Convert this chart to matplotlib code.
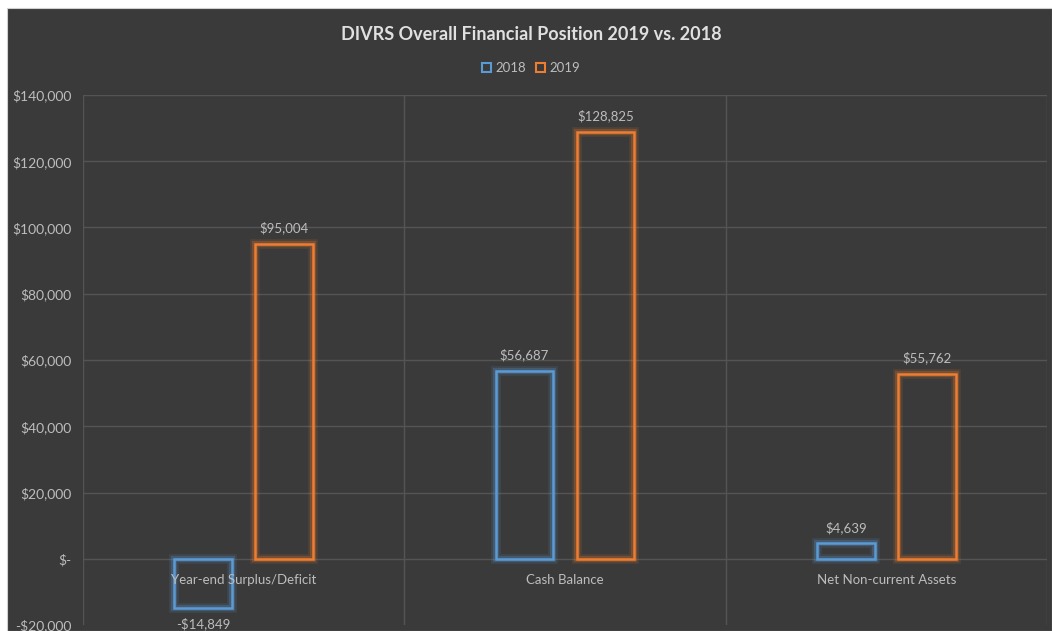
import numpy as np
import matplotlib
matplotlib.use("Agg")
import matplotlib.pyplot as plt
import matplotlib.patheffects as pe
from matplotlib.patches import Patch, Rectangle

categories = ["Year-end Surplus/Deficit", "Cash Balance", "Net Non-current Assets"]
series_names = ["2018", "2019"]
values_2018 = [-14849, 56687, 4639]
values_2019 = [95004, 128825, 55762]
y_ticks = [-20000, 0, 20000, 40000, 60000, 80000, 100000, 120000, 140000]

BG = "#3a3a3a"
TEXT = "#bdbdbd"
GRID = "#545454"
BLUE = "#5b9bd5"
ORANGE = "#ed7d31"

plt.rcParams["font.family"] = ["Lato", "DejaVu Sans"]


def money(v):
    if v == 0:
        return "$-"
    s = f"${abs(v):,.0f}"
    return "-" + s if v < 0 else s


def glow(color):
    return [
        pe.Stroke(linewidth=7, foreground=color, alpha=0.12),
        pe.Stroke(linewidth=4.5, foreground=color, alpha=0.25),
        pe.Normal(),
    ]


fig = plt.figure(figsize=(10.52, 6.31), dpi=100, facecolor="white")
# dark chart area, with the thin white margin left and top
fig.patches.append(Rectangle((7 / 1052, 0), 1 - 7 / 1052, 1 - 8 / 631,
                             transform=fig.transFigure, facecolor=BG,
                             edgecolor="#d0d0d0", linewidth=0.8, zorder=-1))

ax = fig.add_axes([83 / 1052, 6 / 631, (1047 - 83) / 1052, (625 - 95) / 631])
ax.set_facecolor("none")

x = np.arange(len(categories))
width = 0.18
offset = 0.126
for vals, color, sign in ((values_2018, BLUE, -1), (values_2019, ORANGE, 1)):
    bars = ax.bar(x + sign * offset, vals, width, facecolor="none",
                  edgecolor=color, linewidth=1.8, zorder=3)
    for b, v in zip(bars, vals):
        b.set_path_effects(glow(color))
        cx = b.get_x() + b.get_width() / 2
        if v >= 0:
            ax.annotate(money(v), (cx, v), xytext=(0, 7), textcoords="offset points",
                        ha="center", va="bottom", color=TEXT, fontsize=9.5)
        else:
            ax.annotate(money(v), (cx, v), xytext=(0, -7), textcoords="offset points",
                        ha="center", va="top", color=TEXT, fontsize=9.5)

# category labels sit just under the zero line
for i, c in enumerate(categories):
    ax.annotate(c, (i, 0), xytext=(0, -15), textcoords="offset points",
                ha="center", va="center", color=TEXT, fontsize=9.5, zorder=5)

ax.set_xlim(-0.5, len(categories) - 0.5)
ax.set_ylim(-20000, 140000)
ax.set_yticks(y_ticks)
ax.set_yticklabels([money(t) for t in y_ticks], color=TEXT, fontsize=10)
ax.set_xticks([])
ax.tick_params(axis="y", length=0, pad=8)
for sp in ax.spines.values():
    sp.set_visible(False)
for t in y_ticks[1:]:
    ax.axhline(t, color=GRID, linewidth=1, zorder=1)
for xv in np.arange(-0.5, len(categories), 1.0):
    ax.axvline(xv, color=GRID, linewidth=1, zorder=1)

fig.text(531 / 1052, 1 - 35 / 631, "DIVRS Overall Financial Position 2019 vs. 2018",
         ha="center", va="center", color="#e0e0e0", fontsize=13, fontweight="bold")

handles = [Patch(facecolor="none", edgecolor=BLUE, linewidth=1.5, label=series_names[0]),
           Patch(facecolor="none", edgecolor=ORANGE, linewidth=1.5, label=series_names[1])]
fig.legend(handles=handles, loc="center", bbox_to_anchor=(531 / 1052, 1 - 68 / 631),
           ncol=2, frameon=False, fontsize=9.5, labelcolor=TEXT, handlelength=0.7,
           handleheight=0.7, handletextpad=0.3, columnspacing=0.8)

fig.savefig("out.png", dpi=100, facecolor=fig.get_facecolor())
